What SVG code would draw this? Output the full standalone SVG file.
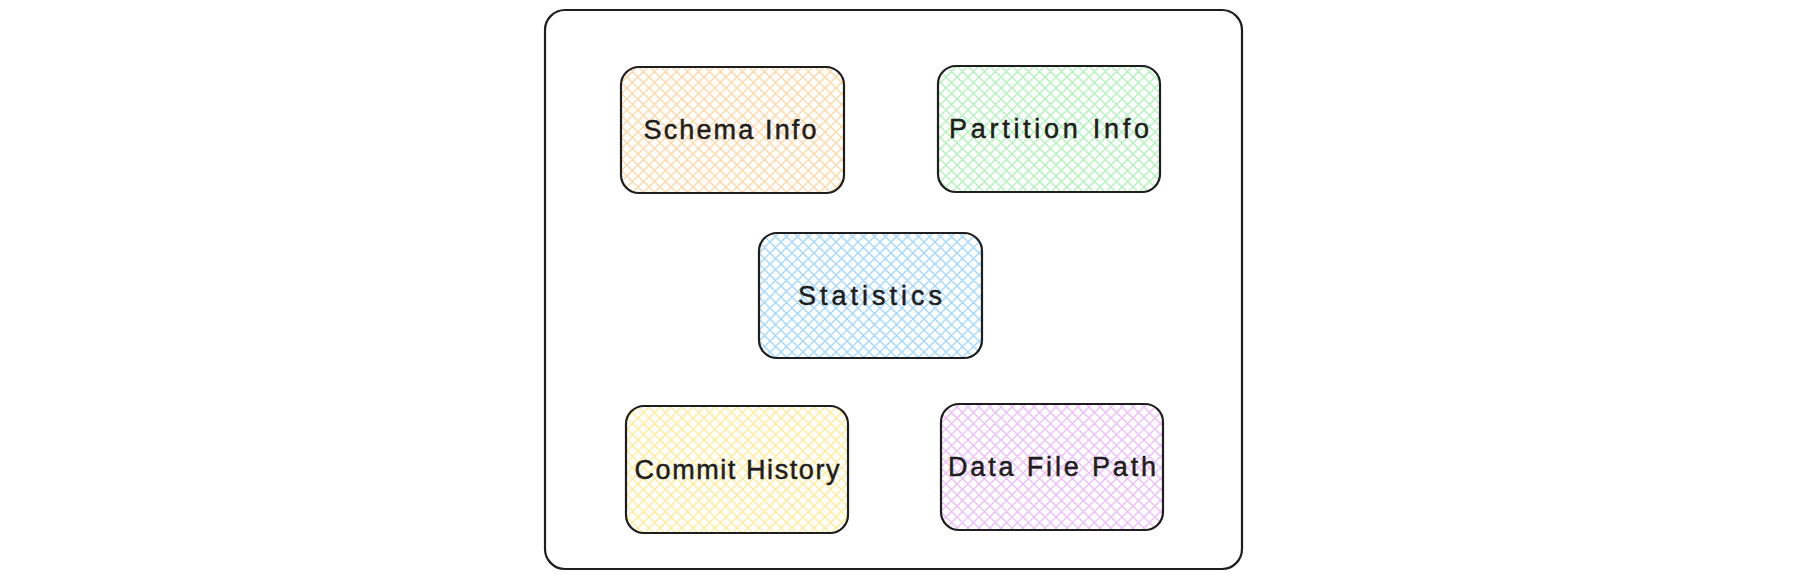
<svg xmlns="http://www.w3.org/2000/svg" width="1793" height="578" viewBox="0 0 1793 578">
<defs>
<style>
.box{stroke:#1e1e1e;stroke-width:2.2;}
.lbl{font-family:"Liberation Sans","DejaVu Sans",sans-serif;font-size:27px;fill:#1e1e1e;stroke:#1e1e1e;stroke-width:0.5;text-anchor:middle;}
.hp{stroke-width:1.4;fill:none;}
</style>
<pattern id="hOrange" patternUnits="userSpaceOnUse" width="11" height="11"><path class="hp" d="M-1,1 L1,-1 M0,11 L11,0 M10,12 L12,10 M-1,10 L1,12 M0,0 L11,11 M10,-1 L12,1" stroke="#ffd8a8"/></pattern>
<pattern id="hGreen" patternUnits="userSpaceOnUse" width="11" height="11"><path class="hp" d="M-1,1 L1,-1 M0,11 L11,0 M10,12 L12,10 M-1,10 L1,12 M0,0 L11,11 M10,-1 L12,1" stroke="#b2f2bb"/></pattern>
<pattern id="hBlue" patternUnits="userSpaceOnUse" width="11" height="11"><path class="hp" d="M-1,1 L1,-1 M0,11 L11,0 M10,12 L12,10 M-1,10 L1,12 M0,0 L11,11 M10,-1 L12,1" stroke="#a5d8ff"/></pattern>
<pattern id="hYellow" patternUnits="userSpaceOnUse" width="11" height="11"><path class="hp" d="M-1,1 L1,-1 M0,11 L11,0 M10,12 L12,10 M-1,10 L1,12 M0,0 L11,11 M10,-1 L12,1" stroke="#ffec99"/></pattern>
<pattern id="hPurple" patternUnits="userSpaceOnUse" width="11" height="11"><path class="hp" d="M-1,1 L1,-1 M0,11 L11,0 M10,12 L12,10 M-1,10 L1,12 M0,0 L11,11 M10,-1 L12,1" stroke="#eebefa"/></pattern>
</defs>
<rect width="1793" height="578" fill="#ffffff"/>
<g id="container">
<rect class="box" x="545" y="10" width="697" height="559" rx="20" fill="none"/>
</g>
<g id="schema-info">
<rect class="box" x="621" y="67" width="223" height="126" rx="18" fill="url(#hOrange)"/>
<text class="lbl" x="730" y="139" textLength="173" lengthAdjust="spacing">Schema Info</text>
</g>
<g id="partition-info">
<rect class="box" x="938" y="66" width="222" height="126" rx="18" fill="url(#hGreen)"/>
<text class="lbl" x="1049" y="138" textLength="200" lengthAdjust="spacing">Partition Info</text>
</g>
<g id="statistics">
<rect class="box" x="759" y="233" width="223" height="125" rx="18" fill="url(#hBlue)"/>
<text class="lbl" x="870" y="305" textLength="144" lengthAdjust="spacing">Statistics</text>
</g>
<g id="commit-history">
<rect class="box" x="626" y="406" width="222" height="127" rx="18" fill="url(#hYellow)"/>
<text class="lbl" x="737" y="479" textLength="205" lengthAdjust="spacing">Commit History</text>
</g>
<g id="data-file-path">
<rect class="box" x="941" y="404" width="222" height="126" rx="18" fill="url(#hPurple)"/>
<text class="lbl" x="1052" y="476" textLength="208" lengthAdjust="spacing">Data File Path</text>
</g>
<g id="connectors"></g>
</svg>
